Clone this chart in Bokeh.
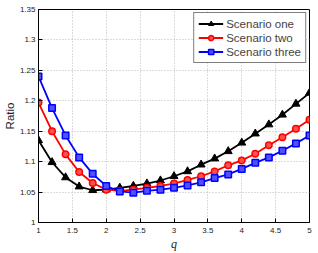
from bokeh.plotting import figure
from bokeh.models import Range1d, FixedTicker, Legend, LegendItem
from bokeh.embed import file_html
from bokeh.resources import INLINE

q = [1.0, 1.2, 1.4, 1.6, 1.8, 2.0, 2.2, 2.4, 2.6, 2.8, 3.0,
     3.2, 3.4, 3.6, 3.8, 4.0, 4.2, 4.4, 4.6, 4.8, 5.0]
scenario_one = [1.135, 1.099, 1.074, 1.059, 1.053, 1.054, 1.057, 1.060, 1.064, 1.069, 1.076,
                1.084, 1.095, 1.105, 1.117, 1.131, 1.146, 1.161, 1.177, 1.195, 1.213]
scenario_two = [1.197, 1.150, 1.112, 1.083, 1.065, 1.054, 1.052, 1.054, 1.057, 1.060, 1.064,
                1.070, 1.076, 1.084, 1.094, 1.102, 1.113, 1.127, 1.140, 1.154, 1.169]
scenario_three = [1.240, 1.188, 1.143, 1.107, 1.080, 1.060, 1.051, 1.049, 1.052, 1.054, 1.057,
                  1.061, 1.066, 1.073, 1.079, 1.088, 1.098, 1.107, 1.118, 1.130, 1.143]
series_names = ["Scenario one", "Scenario two", "Scenario three"]

x_ticks = [1, 1.5, 2, 2.5, 3, 3.5, 4, 4.5, 5]
x_tick_labels = ["1", "1.5", "2", "2.5", "3", "3.5", "4", "4.5", "5"]
y_ticks = [1, 1.05, 1.1, 1.15, 1.2, 1.25, 1.3, 1.35]
y_tick_labels = ["1", "1.05", "1.1", "1.15", "1.2", "1.25", "1.3", "1.35"]

p = figure(width=318, height=253, x_range=Range1d(1, 5), y_range=Range1d(1, 1.35),
           output_backend="svg", toolbar_location=None,
           min_border_left=38, min_border_right=9, min_border_top=9, min_border_bottom=30)
p.background_fill_color = "white"
p.border_fill_color = "white"
p.outline_line_color = "black"
p.outline_line_width = 1

for ax, ticks, labels in ((p.xaxis[0], x_ticks, x_tick_labels), (p.yaxis[0], y_ticks, y_tick_labels)):
    ax.ticker = FixedTicker(ticks=ticks)
    ax.major_label_overrides = {t: l for t, l in zip(ticks, labels)}
    ax.major_tick_in = 4
    ax.major_tick_out = 0
    ax.minor_tick_line_color = None
    ax.axis_line_color = "black"
    ax.major_tick_line_color = "black"
    ax.major_label_text_font = "Liberation Sans"
    ax.major_label_text_font_size = "8px"
    ax.major_label_text_color = "#222222"

p.xaxis.axis_label = "q"
p.xaxis.axis_label_text_font = "Liberation Serif"
p.xaxis.axis_label_text_font_style = "italic"
p.xaxis.axis_label_text_font_size = "12px"
p.xaxis.axis_label_text_color = "#222222"
p.xaxis.axis_label_standoff = 1
p.xaxis.major_label_standoff = 5

p.yaxis.axis_label = "Ratio"
p.yaxis.axis_label_text_font = "Liberation Sans"
p.yaxis.axis_label_text_font_style = "normal"
p.yaxis.axis_label_text_font_size = "11.5px"
p.yaxis.axis_label_text_color = "#222222"
p.yaxis.axis_label_standoff = 1
p.yaxis.major_label_standoff = 3

p.grid.grid_line_color = "#b8b8b8"
p.grid.grid_line_dash = "1 2"
p.grid.grid_line_width = 1

l1 = p.line(q, scenario_one, line_color="black", line_width=1.8)
m1 = p.scatter(q, scenario_one, marker="triangle", size=8, fill_color="black", line_color="black")
l2 = p.line(q, scenario_two, line_color="red", line_width=1.8)
m2 = p.scatter(q, scenario_two, marker="circle", size=6.5, fill_color="#ff5050", line_color="red", line_width=1.5)
l3 = p.line(q, scenario_three, line_color="blue", line_width=1.8)
m3 = p.scatter(q, scenario_three, marker="square", size=6.5, fill_color="#5050ff", line_color="blue", line_width=1.5)

legend = Legend(items=[LegendItem(label=series_names[0], renderers=[l1, m1]),
                       LegendItem(label=series_names[1], renderers=[l2, m2]),
                       LegendItem(label=series_names[2], renderers=[l3, m3])],
                location="top_right")
legend.border_line_color = "black"
legend.border_line_width = 1
legend.background_fill_alpha = 1
legend.margin = 3
legend.padding = 4
legend.spacing = 1
legend.glyph_width = 25
legend.glyph_height = 13
legend.label_height = 13
legend.label_standoff = 3
legend.label_text_font = "Liberation Sans"
legend.label_text_font_size = "11.5px"
p.add_layout(legend, "center")

open("out.html", "w").write(file_html(p, INLINE))
